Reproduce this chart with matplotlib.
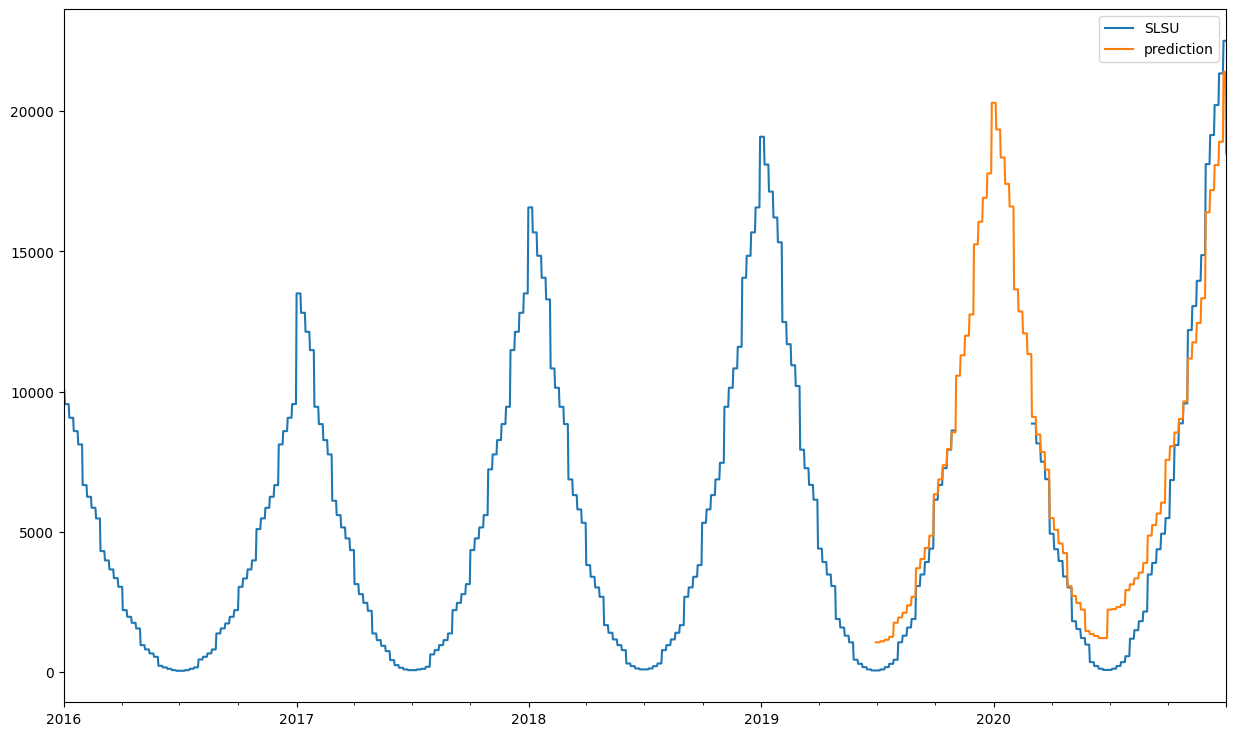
import numpy as np
import pandas as pd
import matplotlib
matplotlib.use("Agg")
import matplotlib.pyplot as plt

nan = np.nan

# weekly levels (weeks start on Sunday, first week starts 2015-12-27)
SLSU_2016 = [10080, 9557, 9070, 8594, 8120, 6669, 6252, 5860, 5480, 4315, 3983, 3662, 3352,
             3042, 2211, 1972, 1758, 1558, 963, 809, 667, 546, 225, 168, 118, 71, 48, 48, 71,
             118, 168, 452, 546, 667, 809, 1379, 1558, 1736, 1972, 2211, 3042, 3340, 3662,
             3983, 5100, 5480, 5860, 6252, 6669, 8120, 8594, 9070, 9557]
SLSU_2017 = [13504, 12813, 12136, 11482, 9461, 8844, 8273, 7763, 6109, 5599, 5160, 4768,
             4351, 3138, 2781, 2471, 2186, 1379, 1141, 938, 749, 428, 250, 155, 96, 71, 71, 96,
             118, 190, 631, 785, 963, 1141, 1379, 2211, 2471, 2781, 3138, 4351, 4768, 5160,
             5599, 7229, 7763, 8273, 8844, 9461, 11482, 12136, 12813, 13504]
SLSU_2018 = [16571, 15680, 14846, 14062, 13290, 10830, 10139, 9461, 8844, 6872, 6312, 5802,
             5324, 3816, 3399, 3020, 2685, 1676, 1403, 1165, 963, 785, 309, 214, 131, 96, 96,
             131, 214, 309, 785, 963, 1165, 1403, 1676, 2685, 3020, 3399, 3816, 5324, 5802,
             6312, 6872, 7464, 9461, 10139, 10830, 11600, 14062, 14846, 15680, 16571]
SLSU_2019 = [19090, 18100, 17135, 16211, 15327, 12485, 11693, 10941, 10202, 7931, 7271, 6676,
             6148, 4404, 3926, 3480, 3070, 1894, 1590, 1298, 1063, 442, 296, 178, 96, 60, 60, 96,
             178, 296, 442, 1063, 1298, 1590, 1894, 3070, 3480, 3926, 4404, 6148, 6676, 7271,
             7931, 8616, nan, nan, nan, nan, nan, nan, nan, nan]
SLSU_2020 = [nan, nan, nan, nan, nan, nan, nan, nan, nan,
             8862, 8155, 7503, 6879, 4935, 4382, 3965, 3409, 3020, 1815, 1537, 1216, 981, 357,
             218, 121, 78, 78, 121, 218, 357, 567, 1191, 1494, 1815, 2161, 3480, 3894, 4382,
             4935, 5492, 6847, 8095, 8869, 9582, 12196, 13052, 13954, 14870, 18115, 19150,
             20219, 21349, 22512]

# prediction, weekly levels from the week starting 2019-06-30
PRED_2019 = [1063, 1100, 1155, 1260, 1762, 1947, 2118, 2382, 2685, 3705, 4033, 4429, 4864,
             6344, 6872, 7375, 7956, 8551, 10570, 11297, 11996, 12752, 15252, 16058, 16914,
             17784]
PRED_2020 = [20302, 19350, 18350, 17410, 16600, 13650, 12860, 12080, 11340, 9100, 8473, 7849,
             7218, 5492, 5074, 4589, 4244, 3063, 2717, 2468, 2229, 1466, 1355, 1287, 1216, 1216,
             2229, 2250, 2320, 2400, 2924, 3131, 3341, 3548, 3894, 4868, 5242, 5656, 6044, 7570,
             8059, 8544, 9029, 9653, 11179, 11760, 12450, 13330, 16393, 17188, 18080, 18911,
             21407]
PRED_LAST_DAY = 18497

slsu_weekly = SLSU_2016 + SLSU_2017 + SLSU_2018 + SLSU_2019 + SLSU_2020
pred_weekly = PRED_2019 + PRED_2020

weeks = pd.date_range("2015-12-27", periods=len(slsu_weekly), freq="7D")
pred_weeks = pd.date_range("2019-06-30", periods=len(pred_weekly), freq="7D")
days = pd.date_range("2016-01-01", "2020-12-31", freq="D")

slsu = pd.Series(slsu_weekly, index=weeks).reindex(days, method="ffill")
pred = pd.Series(pred_weekly, index=pred_weeks, dtype=float).reindex(days, method="ffill")
pred.iloc[-1] = PRED_LAST_DAY

df = pd.DataFrame({"SLSU": slsu, "prediction": pred}, index=days)

fig, ax = plt.subplots(figsize=(15, 9))
df.plot(ax=ax)
ax.legend(loc="upper right")
plt.savefig("out.png", dpi=100, bbox_inches="tight")
